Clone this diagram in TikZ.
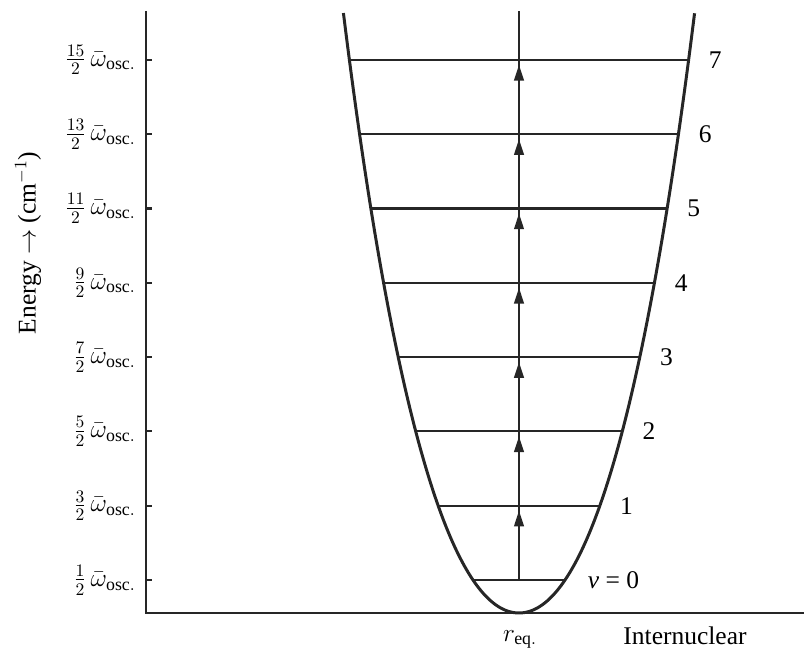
\documentclass[tikz,border=0pt]{standalone}
\usepackage{amsmath}
\usepackage{fontspec}
\setmainfont{Liberation Serif}
\usetikzlibrary{arrows.meta,positioning}

\begin{document}
\begin{tikzpicture}[
    font=\fontsize{14.5}{17}\selectfont,
    axis/.style={line width=1.2pt, black!85},
    lvl/.style={line width=1.2pt, black!85},
    well/.style={line width=1.7pt, black!85},
    arr/.style={-{Triangle[length=9pt, width=5.5pt]}, line width=1.2pt, black!85, shorten >=2.8pt},
    qlbl/.style={anchor=west, inner sep=0pt},
    elbl/.style={anchor=east, inner sep=0pt}
]
\useasboundingbox (0,0) rectangle (16.08,12.96);
\coordinate (org) at (2.92,0.70);
\coordinate (ytop) at (2.92,12.74);
\coordinate (xend) at (16.08,0.70);
\coordinate (top) at (10.38,12.74);
\draw[axis] (ytop) -- (org) -- (xend);

% potential well
\draw[well] plot[domain=-3.464:3.464, samples=90, smooth]
    ({10.38+1.1696*\x-0.045*\x*abs(\x)}, {0.70+\x*\x});

% vibrational levels
\foreach \v in {0,...,7} {
    \pgfmathsetmacro{\h}{0.66+1.486*\v}
    \pgfmathsetmacro{\w}{1.1696*sqrt(\h)-0.045*\h}
    \pgfmathtruncatemacro{\n}{2*\v+1}
    \coordinate (l\v) at (10.38,0.70+\h);
    \coordinate (ll\v) at (10.38-\w,0.70+\h);
    \coordinate (rr\v) at (10.38+\w,0.70+\h);
    \coordinate (t\v) at (2.92,0.70+\h);
    \draw[lvl] (ll\v) -- (rr\v);
    \draw[axis] (t\v) -- ++(0.12,0);
    \node[elbl] (e\v) at (2.72,0.70+\h) {$\tfrac{\n}{2}\,\bar{\omega}_{\mathrm{osc.}}$};
    \ifnum\v=0
        \node[qlbl, right=0.45cm of rr\v] (q\v) {\textit{v} = 0};
    \else
        \node[qlbl, right=0.4cm of rr\v] (q\v) {\v};
    \fi
}
\draw[lvl] (l0) -- (top);
\foreach \v [count=\u from 0] in {1,...,7}
    \draw[arr] (l\u) -- (l\v);

\node[rotate=90] (ylab) at (0.56,8.1) {Energy $\rightarrow$ (cm$^{-1}$)};
\node[anchor=base] (req) at (10.40,0.14) {$r_{\mathrm{eq.}}$};
\node[anchor=base] (inuc) at (13.7,0.07) {Internuclear};
\end{tikzpicture}
\end{document}
